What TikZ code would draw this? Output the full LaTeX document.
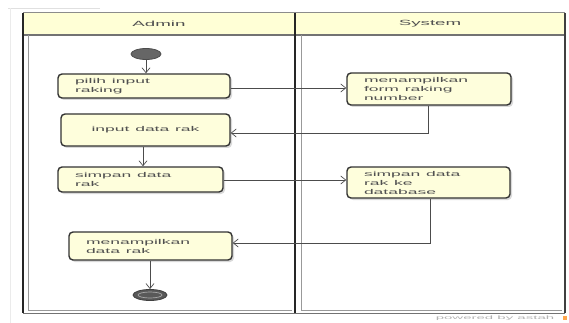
\documentclass[tikz,border=0pt]{standalone}
\usepackage{fontspec}
\setmainfont{Liberation Sans}
\usetikzlibrary{arrows.meta,shadows,shapes.geometric}
\definecolor{boxfill}{HTML}{FEFEDC}
\definecolor{headfill}{HTML}{FFFFD6}
\definecolor{txt}{HTML}{505050}
\newcommand{\wtxt}[1]{\scalebox{2.5}[1]{#1}}
\tikzset{
  box/.style={draw=black!80, line width=1.4pt, rounded corners=4pt, fill=boxfill,
    drop shadow={shadow xshift=2pt, shadow yshift=-2pt, fill=black!25, opacity=0.6},
    text=txt, font=\fontsize{7}{9}\selectfont, inner xsep=17pt, inner ysep=0pt, align=left},
  flow/.style={draw=black!70, line width=0.7pt, -{Straight Barb[length=5pt,width=8pt]}},
  head/.style={text=txt, font=\fontsize{7.5}{9}\selectfont}
}
\begin{document}
\begin{tikzpicture}[x=1pt,y=-1pt]
\useasboundingbox (0,0) rectangle (569,323);
% faint page lines
\draw[black!12, line width=0.8pt] (8,8) -- (100,8);
\draw[black!8, line width=0.6pt] (10,8) -- (10,323);
% header band
\fill[headfill] (23,13) rectangle (565,35);
\draw[black!45, line width=1pt] (23,13) -- (565,13);
\draw[black!55, line width=1.2pt] (23,35) -- (565,35);
% lane borders
\draw[black!85, line width=1.6pt] (23,13) -- (23,313);
\draw[black!85, line width=1.6pt] (295,13) -- (295,313);
\draw[black!75, line width=1.2pt] (565,13) -- (565,313);
\draw[black!40, line width=0.5pt] (28,35) -- (28,310) -- (292,310);
\draw[black!40, line width=0.5pt] (301,35) -- (301,310) -- (562,310);
\draw[black!55, line width=1pt] (23,313) -- (565,313);
\node[head] (hadmin) at (159,24) {\wtxt{Admin}};
\node[head] (hsys) at (430,24) {\wtxt{System}};
% start
\node[ellipse, draw=black!70, line width=0.8pt, fill=black!60, minimum width=30pt, minimum height=11pt, inner sep=0pt] (start) at (146,54) {};
% boxes
\node[box, text width=138pt, minimum height=24pt] (b1) at (144,86) {\wtxt{pilih input}\\\wtxt{raking}};
\node[box, text width=135pt, minimum height=32pt, align=center] (b3) at (145.5,130) {\wtxt{input data rak}};
\node[box, text width=130pt, minimum height=32pt] (b4) at (429,89) {\wtxt{menampilkan}\\\wtxt{form raking}\\\wtxt{number}};
\node[box, text width=131pt, minimum height=25pt] (b5) at (140.5,179.5) {\wtxt{simpan data}\\\wtxt{rak}};
\node[box, text width=129pt, minimum height=31pt] (b6) at (428.5,182.5) {\wtxt{simpan data}\\\wtxt{rak ke}\\\wtxt{database}};
\node[box, text width=129pt, minimum height=28pt] (b7) at (150.5,246) {\wtxt{menampilkan}\\\wtxt{data rak}};
% end
\node[ellipse, draw=black!75, line width=0.8pt, fill=black!65, minimum width=34pt, minimum height=11pt, inner sep=0pt] (end) at (150,295) {};
\node[ellipse, draw=black!35, line width=0.7pt, minimum width=24pt, minimum height=6pt, inner sep=0pt] (endin) at (end.center) {};
% connectors
\draw[flow] (start.south) -- (start.south |- b1.north);
\draw[flow] (b1.east |- 0,88) -- (b4.west |- 0,88);
\coordinate (c1) at (428,133);
\draw[flow] (b4.south -| c1) -- (c1) -- (b3.east |- c1);
\draw[flow] (b3.south -| 143,0) -- (b5.north -| 143,0);
\draw[flow] (b5.east |- 0,180) -- (b6.west |- 0,180);
\coordinate (c2) at (430,243);
\draw[flow] (b6.south -| c2) -- (c2) -- (b7.east |- c2);
\draw[flow] (b7.south -| end.north) -- (end.north);
% watermark
\node[text=black!30, font=\fontsize{5}{6}\selectfont] (wm) at (495,318) {\scalebox{3}[1]{powered by astah}};
\fill[orange!70] (563,316) rectangle (567,320);
\end{tikzpicture}
\end{document}
